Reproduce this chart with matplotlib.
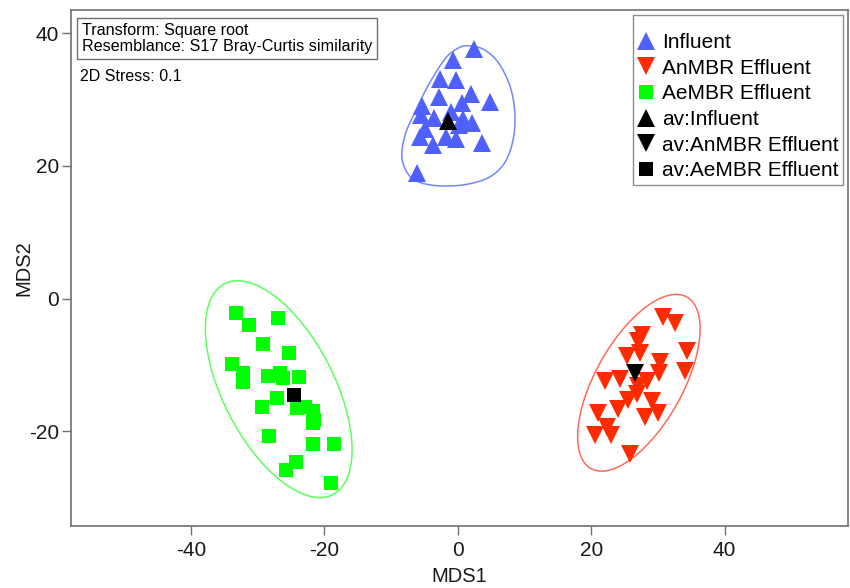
import numpy as np
import matplotlib
matplotlib.use("Agg")
import matplotlib.pyplot as plt
from matplotlib.patches import Ellipse, PathPatch
from matplotlib.path import Path
from matplotlib.lines import Line2D

plt.rcParams['font.family'] = ['Liberation Sans', 'DejaVu Sans']
plt.rcParams['axes.unicode_minus'] = False

# ---------------- data ----------------
influent_x = [2.4, -0.7, -2.7, -0.3, -2.8, 2.05, 4.8, -5.3, 0.7, -0.95, -5.45, -3.6,
              0.8, 2.2, 0.2, -4.95, -5.7, -3.7, -1.7, -0.2, 3.7, -6.1]
influent_y = [37.6, 35.9, 33.1, 33.0, 30.4, 30.8, 29.6, 29.1, 29.5, 28.1, 27.6, 27.2,
              27.1, 26.4, 26.2, 25.6, 24.3, 23.1, 24.3, 24.1, 23.4, 18.9]

anmbr_x = [30.8, 32.5, 27.65, 27.05, 27.3, 34.3, 25.3, 30.3, 34.05, 30.15, 22.05, 24.3,
           28.3, 27.05, 26.8, 25.55, 29.05, 24.05, 21.05, 30.05, 28.05, 22.3, 20.55, 22.95, 25.8]
anmbr_y = [-2.8, -3.7, -5.5, -6.4, -8.2, -7.9, -8.7, -9.5, -11.0, -11.2, -12.5, -12.2,
           -12.5, -13.2, -14.4, -15.3, -15.5, -16.6, -17.3, -17.3, -17.9, -19.3, -20.6, -20.6, -23.5]

aembr_x = [-33.25, -27.0, -31.35, -29.25, -25.25, -33.9, -32.15, -32.15, -28.5, -26.6, -26.25,
           -23.75, -27.1, -29.35, -24.1, -22.9, -21.75, -21.5, -21.75, -28.25, -21.65, -18.5,
           -24.25, -25.75, -19.0]
aembr_y = [-2.2, -2.9, -4.0, -6.8, -8.2, -9.9, -11.3, -12.6, -11.7, -11.3, -12.0,
           -11.8, -15.0, -16.3, -16.5, -16.4, -17.0, -18.3, -18.8, -20.8, -21.9, -21.9,
           -24.7, -25.8, -27.8]

avg_labels = ["av:Influent", "av:AnMBR Effluent", "av:AeMBR Effluent"]
avg_x = [-1.45, 26.55, -24.6]
avg_y = [26.7, -11.2, -14.6]

# outline / ellipse overlays (data units)
influent_outline = [(1.3, 38.1), (3.8, 37.6), (6.05, 35.6), (7.8, 32.1), (8.55, 28.05),
                    (8.3, 24.0), (7.05, 20.5), (4.55, 18.2), (0.55, 17.1), (-3.95, 17.1),
                    (-6.95, 18.2), (-8.35, 21.0), (-7.95, 24.5), (-6.45, 28.05),
                    (-4.45, 32.1), (-1.95, 36.1), (-0.2, 37.6)]
anmbr_ellipse = dict(xy=(27.15, -12.7), width=29.6, height=13.1, angle=61)
aembr_ellipse = dict(xy=(-26.85, -13.67), width=35.7, height=16.7, angle=117)

xticks = [-40, -20, 0, 20, 40]
yticks = [-20, 0, 20, 40]

# ---------------- colours ----------------
c_blue = '#5060FF'
c_red = '#FF2A00'
c_green = '#00FF00'
c_blue_l = '#7585FF'
c_red_l = '#FF6A5A'
c_green_l = '#5CFF5C'
spine_c = '#707070'

fig = plt.figure(figsize=(8.5, 5.88), dpi=100)
ax = fig.add_axes([0.0835, 0.1054, 0.9141, 0.8776])

# closed smooth outline (Catmull-Rom -> Bezier)
pts = np.array(influent_outline)
n = len(pts)
verts = [pts[0]]
codes = [Path.MOVETO]
for i in range(n):
    p0, p1, p2, p3 = pts[i - 1], pts[i], pts[(i + 1) % n], pts[(i + 2) % n]
    c1 = p1 + (p2 - p0) / 6.0
    c2 = p2 - (p3 - p1) / 6.0
    verts += [c1, c2, p2]
    codes += [Path.CURVE4] * 3
ax.add_patch(PathPatch(Path(verts, codes), fill=False, ec=c_blue_l, lw=1.1, zorder=1))
ax.add_patch(Ellipse(**anmbr_ellipse, fill=False, ec=c_red_l, lw=1.1, zorder=1))
ax.add_patch(Ellipse(**aembr_ellipse, fill=False, ec=c_green_l, lw=1.1, zorder=1))

ms_t = 12.5
ms_s = 10.3
ax.plot(influent_x, influent_y, ls='none', marker='^', ms=ms_t, mew=0, color=c_blue, zorder=2)
ax.plot(anmbr_x, anmbr_y, ls='none', marker='v', ms=ms_t, mew=0, color=c_red, zorder=2)
ax.plot(aembr_x, aembr_y, ls='none', marker='s', ms=ms_s, mew=0, color=c_green, zorder=2)
for m, x, y in zip(['^', 'v', 's'], avg_x, avg_y):
    ax.plot([x], [y], ls='none', marker=m, ms=(ms_s if m == 's' else ms_t), mew=0,
            color='black', zorder=3)

ax.set_xlim(-58, 58.5)
ax.set_ylim(-34.3, 43.5)
ax.set_xticks(xticks)
ax.set_yticks(yticks)
ax.tick_params(direction='out', length=6.5, width=1, color=spine_c, labelsize=15,
               labelcolor='#1a1a1a')
ax.tick_params(axis='x', pad=4.5)
ax.tick_params(axis='y', pad=2)
for s in ax.spines.values():
    s.set_color(spine_c)
    s.set_linewidth(1.2)
ax.set_xlabel('MDS1', fontsize=14.5, color='#1a1a1a', labelpad=4.5)
ax.set_ylabel('MDS2', fontsize=14.5, color='#1a1a1a', labelpad=-3)

ax.text(0.014, 0.975, 'Transform: Square root\nResemblance: S17 Bray-Curtis similarity',
        transform=ax.transAxes, ha='left', va='top', fontsize=11.6, linespacing=1.1,
        bbox=dict(boxstyle='square,pad=0.28', fc='white', ec=spine_c, lw=1), zorder=5)
ax.text(0.012, 0.885, '2D Stress: 0.1', transform=ax.transAxes, ha='left', va='top',
        fontsize=11.5, zorder=5)

handles = [
    Line2D([], [], ls='none', marker='^', ms=ms_t, mew=0, color=c_blue, label='Influent'),
    Line2D([], [], ls='none', marker='v', ms=ms_t, mew=0, color=c_red, label='AnMBR Effluent'),
    Line2D([], [], ls='none', marker='s', ms=ms_s, mew=0, color=c_green, label='AeMBR Effluent'),
    Line2D([], [], ls='none', marker='^', ms=ms_t, mew=0, color='black', label=avg_labels[0]),
    Line2D([], [], ls='none', marker='v', ms=ms_t, mew=0, color='black', label=avg_labels[1]),
    Line2D([], [], ls='none', marker='s', ms=ms_s, mew=0, color='black', label=avg_labels[2]),
]
leg = ax.legend(handles=handles, loc='upper right', fontsize=15, frameon=True,
                fancybox=False, edgecolor=spine_c, borderaxespad=0.25, borderpad=0.2,
                labelspacing=0.32, handlelength=0.9, handletextpad=0.3,
                title=' ', title_fontsize=6)
leg.get_frame().set_linewidth(1)

fig.savefig('out.png', dpi=100)
